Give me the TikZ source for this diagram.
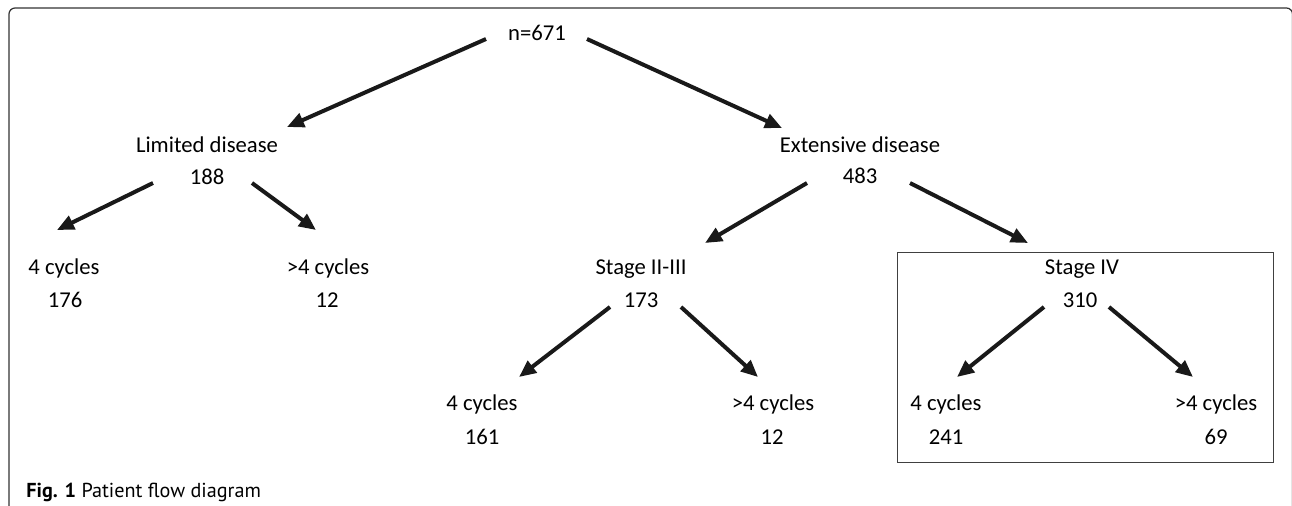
\documentclass[tikz,border=0pt]{standalone}
\usepackage{fontspec}
\setmainfont{Carlito}
\newfontfamily\capfont{PT Sans}
\usetikzlibrary{arrows.meta}
\tikzset{
    label/.style={anchor=base,inner sep=0pt,font=\fontsize{12.9}{15}\selectfont},
    flow/.style={-{Triangle[length=3.4mm,width=2.9mm]},line width=0.8mm,black!90}
}

\begin{document}
\begin{tikzpicture}[x=0.02cm,y=-0.02cm]
\useasboundingbox (0,0) rectangle (1292,505);

% Rahmen
\draw[black!80,line width=0.25mm,rounded corners=1.2mm] (9,520) -- (9,8) -- (1292.5,8) -- (1292.5,520);

% Wurzel
\node[label] (root) at (537,40) {n=671};

% erste Ebene
\node[label] (ld) at (207,152) {Limited disease};
\node[label] (ldn) at (207,184) {188};
\node[label] (ed) at (860,152) {Extensive disease};
\node[label] (edn) at (860,183) {483};

% zweite Ebene
\node[label] (lc4) at (64,274) {4 cycles};
\node[label] (lc4n) at (65,307) {176};
\node[label] (lcm) at (328,274) {>4 cycles};
\node[label] (lcmn) at (327,307) {12};
\node[label] (s23) at (641,274) {Stage II-III};
\node[label] (s23n) at (641,307) {173};
\node[label] (s4) at (1082,274) {Stage IV};
\node[label] (s4n) at (1080,307) {310};

% dritte Ebene
\node[label] (sc4) at (482,410) {4 cycles};
\node[label] (sc4n) at (482,444) {161};
\node[label] (scm) at (773,410) {>4 cycles};
\node[label] (scmn) at (772,444) {12};
\node[label] (vc4) at (946,410) {4 cycles};
\node[label] (vc4n) at (946,444) {241};
\node[label] (vcm) at (1216,410) {>4 cycles};
\node[label] (vcmn) at (1216,444) {69};

% Kasten um Stage IV
\node[draw=black!75,line width=0.2mm,inner sep=0pt,minimum width=7.54cm,minimum height=4.22cm] (box) at (1085.5,357.5) {};

% Pfeile
\draw[flow] ([shift={(-51,-1)}]root.base) -- ([shift={(80,-25)}]ld.base);
\draw[flow] ([shift={(50,-1)}]root.base) -- ([shift={(-78,-24)}]ed.base);
\draw[flow] ([shift={(-54,-1)}]ldn.base) -- ([shift={(-7,-44)}]lc4.base);
\draw[flow] ([shift={(45,-1)}]ldn.base) -- ([shift={(-12,-44)}]lcm.base);
\draw[flow] ([shift={(-53,0)}]edn.base) -- ([shift={(64,-31)}]s23.base);
\draw[flow] ([shift={(50,0)}]edn.base) -- ([shift={(-54,-31)}]s4.base);
\draw[flow] ([shift={(-31,0)}]s23n.base) -- ([shift={(37,-33)}]sc4.base);
\draw[flow] ([shift={(40,0)}]s23n.base) -- ([shift={(-15,-33)}]scm.base);
\draw[flow] ([shift={(-36,0)}]s4n.base) -- ([shift={(11,-33)}]vc4.base);
\draw[flow] ([shift={(29,0)}]s4n.base) -- ([shift={(-23,-33)}]vcm.base);

% Bildunterschrift
\node[anchor=base west,inner sep=0pt,font=\capfont\fontsize{11.5}{13}\selectfont] (cap) at (26,497) {\textbf{Fig. 1} Patient flow diagram};
\end{tikzpicture}
\end{document}
